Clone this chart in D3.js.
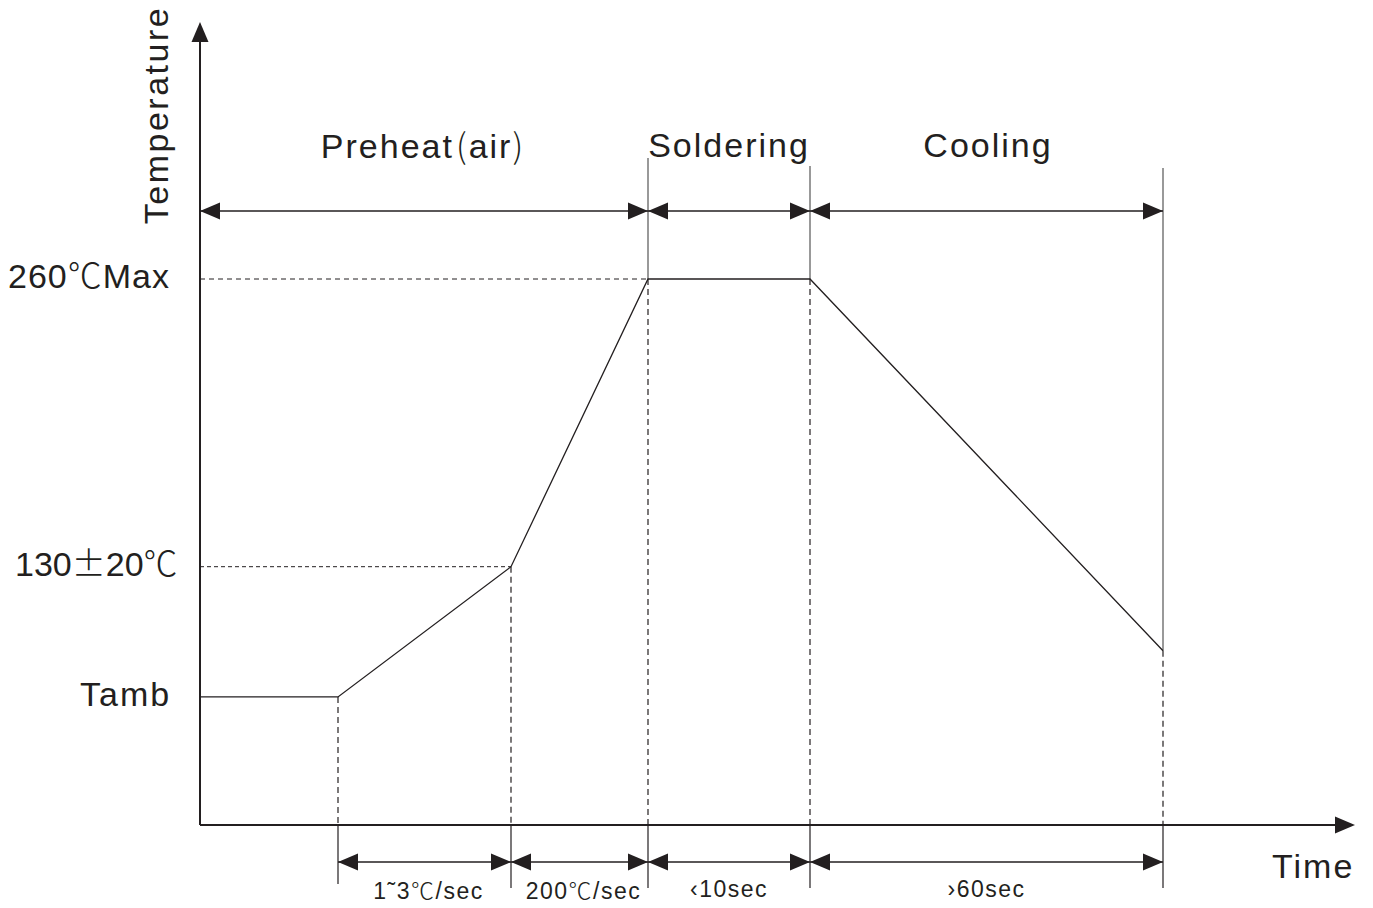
<!DOCTYPE html>
<html>
  <head>
    <script src="https://d3js.org/d3.v7.min.js"></script>
    <style>
      html, body {
        margin: 0;
        padding: 0;
        overflow: hidden;
        background: #fff;
      }
      svg text {
        font-family: "Liberation Sans", Arial, sans-serif;
        fill: #231f20;
      }
      .cjk {
        font-family: "Noto Sans CJK SC", "Liberation Sans", sans-serif;
        font-weight: 300;
      }
    </style>
  </head>
  <body>
    <div id="chart"></div>
    <script>
      // time units along the axis (arbitrary)
      const phaseNames = ["Preheat", "Soldering", "Cooling"];
      const phaseBounds = [0, 448, 610, 963];
      const profileTime = [0, 138, 311, 448, 610, 963];
      const profileTemp = [61, 61, 123, 260, 260, 83];
      const tempLevels = [260, 123, 61];
      const tempLabels = [["260", "℃", "Max"], ["130", "±", "20", "℃"], ["Tamb"]];
      const rateBounds = [138, 311, 448, 610, 963];
      const rateLabels = [["1", "˜", "3", "℃", "/sec"], ["200", "℃", "/sec"], ["‹", "10sec"], ["›", "60sec"]];
      const cjkParts = ["℃", "±"];

      const width = 1373, height = 908;
      const ink = "#231f20";

      const svg = d3.select("#chart").append("svg")
        .attr("width", width).attr("height", height);

      const x = d3.scaleLinear().domain([0, 1155]).range([200, 1355]);
      const y = d3.scaleLinear().domain([0, 260]).range([825, 279]);
      const yTop = y.invert(22);

      const topRow = 211, bottomRow = 862;

      function arrowHead(tipX, tipY, dir) {
        const L = 20, H = 8.5;
        let p;
        if (dir === "r") p = [[tipX, tipY], [tipX - L, tipY - H], [tipX - L, tipY + H]];
        else if (dir === "l") p = [[tipX, tipY], [tipX + L, tipY - H], [tipX + L, tipY + H]];
        else p = [[tipX, tipY], [tipX - H, tipY + L], [tipX + H, tipY + L]];
        svg.append("path").attr("d", "M" + p.join("L") + "Z").attr("fill", ink);
      }

      function dimension(t0, t1, yy) {
        svg.append("line")
          .attr("x1", x(t0)).attr("x2", x(t1)).attr("y1", yy).attr("y2", yy)
          .attr("stroke", ink).attr("stroke-width", 1.3);
        arrowHead(x(t0), yy, "l");
        arrowHead(x(t1), yy, "r");
      }

      // axes
      svg.append("line").attr("x1", x(0)).attr("x2", x(0)).attr("y1", y(0)).attr("y2", y(yTop) + 10)
        .attr("stroke", ink).attr("stroke-width", 2);
      arrowHead(x(0), y(yTop), "u");
      svg.append("line").attr("x1", x(0)).attr("x2", x(1145)).attr("y1", y(0)).attr("y2", y(0))
        .attr("stroke", ink).attr("stroke-width", 2);
      arrowHead(x(1155), y(0), "r");

      // dashed guide lines (horizontal)
      svg.append("line").attr("x1", x(0)).attr("x2", x(448)).attr("y1", y(260)).attr("y2", y(260))
        .attr("stroke", ink).attr("stroke-width", 1).attr("stroke-dasharray", "5,4");
      svg.append("line").attr("x1", x(0)).attr("x2", x(311)).attr("y1", y(123)).attr("y2", y(123))
        .attr("stroke", ink).attr("stroke-width", 1).attr("stroke-dasharray", "4,3");

      // dashed verticals from profile points down to the time axis
      profileTime.forEach((t, i) => {
        if (i === 0) return;
        svg.append("line").attr("x1", x(t)).attr("x2", x(t))
          .attr("y1", y(profileTemp[i])).attr("y2", y(0))
          .attr("stroke", ink).attr("stroke-width", 1.2).attr("stroke-dasharray", "6,4");
        // extension below axis
        svg.append("line").attr("x1", x(t)).attr("x2", x(t))
          .attr("y1", y(0)).attr("y2", i === 1 ? 884 : 888)
          .attr("stroke", ink).attr("stroke-width", 1.2);
      });

      // solid verticals above the profile at phase bounds
      const topEnds = [158, 166, 168];
      phaseBounds.slice(1).forEach((t, i) => {
        const idx = profileTime.indexOf(t);
        svg.append("line").attr("x1", x(t)).attr("x2", x(t))
          .attr("y1", topEnds[i]).attr("y2", y(profileTemp[idx]))
          .attr("stroke", "#555").attr("stroke-width", 1.2);
      });

      // profile line
      const line = d3.line().x(d => x(d[0])).y(d => y(d[1]));
      svg.append("path")
        .attr("d", line(profileTime.map((t, i) => [t, profileTemp[i]])))
        .attr("fill", "none").attr("stroke", ink).attr("stroke-width", 1.3);

      // dimension rows
      for (let i = 0; i < phaseBounds.length - 1; i++) dimension(phaseBounds[i], phaseBounds[i + 1], topRow);
      for (let i = 0; i < rateBounds.length - 1; i++) dimension(rateBounds[i], rateBounds[i + 1], bottomRow);

      function richText(parts, px, py, size, anchor, spacing) {
        const t = svg.append("text").attr("x", px).attr("y", py)
          .attr("font-size", size).attr("text-anchor", anchor)
          .attr("letter-spacing", spacing || 0);
        parts.forEach(p => {
          t.append("tspan").attr("class", cjkParts.includes(p) ? "cjk" : null).text(p);
        });
        return t;
      }

      // phase titles
      const phaseCenters = [423, 729, 988];
      phaseNames.forEach((n, i) => {
        if (i === 0) {
          const t = richText(["Preheat"], phaseCenters[i], 158, 34, "middle", 2);
          t.append("tspan").attr("class", "cjk").attr("dx", 2).text("(");
          t.append("tspan").text("air");
          t.append("tspan").attr("class", "cjk").text(")");
        } else {
          richText([n], phaseCenters[i], 157, 34, "middle", 2);
        }
      });

      // temperature labels
      const tempLabelX = [8, 15, 80];
      const tempLabelSpacing = [1, 0, 2];
      tempLevels.forEach((v, i) => {
        richText(tempLabels[i], tempLabelX[i], y(v) + 9, 34, "start", tempLabelSpacing[i]);
      });

      // rate labels
      rateLabels.forEach((parts, i) => {
        const cx = (x(rateBounds[i]) + x(rateBounds[i + 1])) / 2 + (i < 2 ? 4 : 0);
        richText(parts, cx, i < 2 ? 899 : 897, 23, "middle", 1.5);
      });

      // axis titles
      svg.append("text").attr("transform", "translate(168,115) rotate(-90)")
        .attr("font-size", 34).attr("text-anchor", "middle").attr("letter-spacing", 2.5)
        .text("Temperature");
      svg.append("text").attr("x", 1272).attr("y", 878)
        .attr("font-size", 34).attr("letter-spacing", 2).text("Time");
    </script>
  </body>
</html>
